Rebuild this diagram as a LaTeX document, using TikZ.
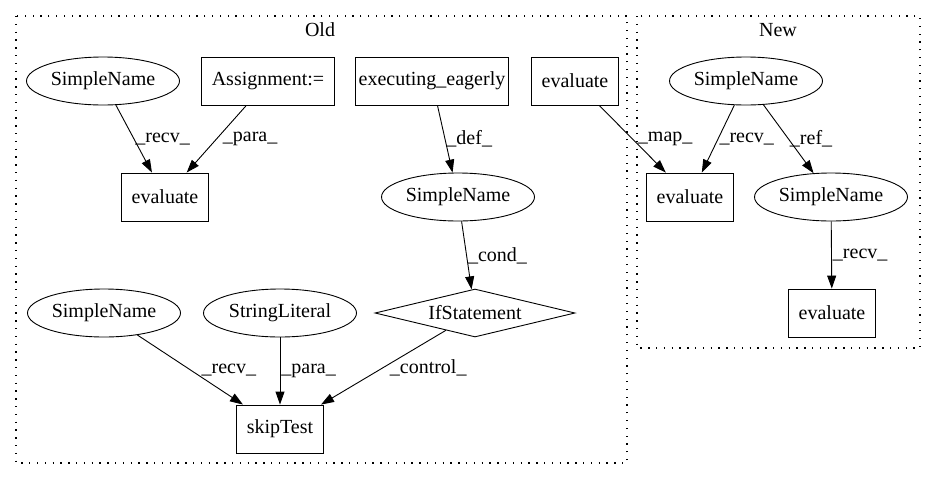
\documentclass[tikz,border=0pt]{standalone}
\usepackage{fontspec}
\setmainfont{Liberation Serif}
\usepackage{tikz}
\usetikzlibrary{shapes.geometric, arrows.meta}
\tikzset{
    base/.style={
        font=\fontsize{20}{23}\selectfont,
        align=center
    },
    stmt/.style={
        base,
        rectangle,
        draw,
        line width=0.9pt,
        minimum width=83pt,
        minimum height=48pt,
        inner xsep=10pt
    },
    ident/.style={
        base,
        ellipse,
        draw,
        line width=0.9pt,
        minimum width=153pt,
        minimum height=48pt,
        inner sep=0pt
    },
    branch/.style={
        base,
        diamond,
        draw,
        line width=0.9pt,
        aspect=4.2,
        minimum width=200pt,
        minimum height=48pt,
        inner sep=0pt
    },
    flow/.style={
        -{Triangle[length=13pt, width=9pt]},
        line width=0.9pt
    },
    edgelabel/.style={
        base,
        anchor=west,
        inner sep=1pt,
        pos=0.5
    },
    cluster/.style={
        line width=1.3pt,
        dash pattern=on 1.3pt off 6.5pt
    }
}

\begin{document}
\begin{tikzpicture}[x=1pt, y=-1pt]
  \useasboundingbox (0,0) rectangle (936,480);

  % Clusters
  \draw[cluster] (16,16) rectangle (627,463);
  \node[base] (oldTitle) at (320,30) {Old};
  \draw[cluster] (637,16) rectangle (920,348);
  \node[base] (newTitle) at (778,30) {New};

  % Old
  \node[ident] (nameRecv) at (103,81) {SimpleName};
  \node[stmt] (assign) at (268,81) {Assignment:=};
  \node[stmt] (evalOld) at (165,197) {evaluate};
  \node[stmt, inner xsep=3pt] (eager) at (432,81) {executing\_eagerly};
  \node[ident] (nameCond) at (458,197) {SimpleName};
  \node[stmt] (evalMap) at (575,81) {evaluate};
  \node[branch] (ifStmt) at (475,313) {IfStatement};
  \node[ident] (nameSkip) at (104,313) {SimpleName};
  \node[ident] (strLit) at (280,313) {StringLiteral};
  \node[stmt] (skip) at (280,429) {skipTest};

  % New
  \node[ident] (nameNew) at (746,81) {SimpleName};
  \node[stmt] (evalNew) at (690,197) {evaluate};
  \node[ident] (nameRef) at (831,197) {SimpleName};
  \node[stmt] (evalRef) at (832,313) {evaluate};

  % Edges
  \draw[flow] (nameRecv) -- node[edgelabel] {\_recv\_} (evalOld);
  \draw[flow] (assign) -- node[edgelabel, xshift=5pt] {\_para\_} (evalOld);
  \draw[flow] (eager) -- node[edgelabel] {\_def\_} (nameCond);
  \draw[flow] (nameCond) -- node[edgelabel] {\_cond\_} (ifStmt);
  \draw[flow] (evalMap) -- node[edgelabel, xshift=4pt] {\_map\_} (evalNew);
  \draw[flow] (nameNew) -- node[edgelabel] {\_recv\_} (evalNew);
  \draw[flow] (nameNew) -- node[edgelabel] {\_ref\_} (nameRef);
  \draw[flow] (nameRef) -- node[edgelabel] {\_recv\_} (evalRef);
  \draw[flow] (nameSkip) -- node[edgelabel, xshift=10pt] {\_recv\_} (skip);
  \draw[flow] (strLit) -- node[edgelabel] {\_para\_} (skip);
  \draw[flow] (ifStmt) -- node[edgelabel, xshift=5pt] {\_control\_} (skip);
\end{tikzpicture}
\end{document}
